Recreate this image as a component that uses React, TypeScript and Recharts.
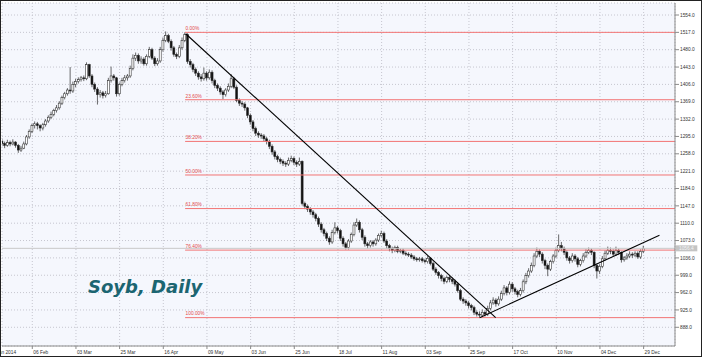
import React from 'react';
import { ComposedChart, Bar, XAxis, YAxis, CartesianGrid, ReferenceLine, ReferenceDot } from 'recharts';

// Daily closes (first visible bar ~15 Jan 2014 through 29 Dec 2014)
const firstOpen = 1285;
const closes = [
  1280,1276,1282,1279,1283,1276,1266,1270,1279,1294,
  1306,1318,1322,1318,1313,1320,1328,1336,1342,1350,
  1356,1366,1378,1386,1394,1392,1406,1412,1416,1420,
  1418,1448,1424,1406,1396,1384,1388,1382,1386,1414,
  1424,1420,1386,1406,1414,1420,1424,1440,1462,1468,
  1456,1460,1450,1466,1480,1462,1450,1456,1480,1500,
  1510,1498,1484,1470,1466,1484,1500,1512,1455,1448,
  1438,1430,1422,1418,1430,1420,1432,1414,1404,1398,
  1390,1384,1394,1402,1418,1400,1372,1366,1364,1356,
  1340,1326,1312,1302,1298,1296,1290,1284,1274,1262,
  1252,1246,1242,1238,1236,1244,1248,1240,1236,1242,
  1152,1146,1140,1134,1128,1120,1108,1096,1088,1078,
  1070,1090,1100,1094,1078,1066,1058,1072,1086,1106,
  1112,1096,1080,1066,1062,1070,1066,1074,1084,1088,
  1072,1062,1056,1052,1058,1050,1052,1046,1044,1042,
  1038,1034,1032,1034,1030,1028,1035,1024,1012,1005,
  998,992,986,994,990,986,980,966,948,944,
  940,934,930,920,916,914,920,916,928,940,
  946,938,948,960,972,962,980,970,964,958,
  966,985,998,1008,1020,1040,1050,1044,1030,1020,
  1012,1028,1040,1052,1062,1056,1048,1036,1030,1040,
  1034,1022,1030,1040,1048,1052,1048,1020,1008,1018,
  1034,1046,1052,1050,1044,1052,1048,1032,1036,1040,
  1044,1042,1046,1038,1050,1056.4,
];
const highs = [
  1290,1284,1288,1286,1289,1285,1279,1275,1284,1298,
  1310,1322,1327,1326,1321,1324,1332,1340,1348,1354,
  1362,1370,1382,1390,1398,1443,1412,1418,1421,1424,
  1425,1453,1450,1428,1410,1400,1394,1392,1392,1420,
  1444,1428,1422,1410,1420,1426,1428,1446,1470,1474,
  1472,1466,1464,1470,1486,1484,1466,1462,1486,1506,
  1519,1514,1502,1488,1474,1490,1506,1517,1515,1460,
  1452,1442,1434,1428,1442,1434,1438,1436,1418,1408,
  1402,1394,1398,1408,1428,1422,1404,1376,1370,1368,
  1358,1344,1330,1316,1306,1302,1300,1294,1288,1278,
  1266,1256,1250,1246,1242,1250,1254,1252,1244,1250,
  1244,1156,1150,1144,1138,1132,1124,1112,1100,1092,
  1082,1096,1112,1104,1098,1082,1070,1076,1090,1112,
  1120,1116,1100,1084,1070,1074,1074,1078,1088,1094,
  1092,1076,1066,1060,1062,1062,1056,1056,1050,1048,
  1046,1042,1038,1038,1038,1034,1040,1038,1028,1016,
  1008,1002,996,998,998,994,990,984,970,952,
  948,944,938,934,924,922,926,924,934,946,
  952,950,954,966,978,976,986,984,974,968,
  972,990,1004,1014,1026,1046,1058,1054,1048,1034,
  1024,1032,1044,1058,1086,1070,1060,1052,1040,1046,
  1044,1038,1034,1046,1054,1058,1056,1050,1024,1022,
  1040,1052,1060,1058,1054,1060,1056,1050,1040,1046,
  1050,1048,1050,1050,1054,1062,
];
const lows = [
  1274,1270,1273,1274,1276,1271,1260,1262,1268,1276,
  1290,1302,1312,1310,1306,1308,1316,1324,1332,1338,
  1346,1352,1362,1374,1382,1386,1388,1400,1408,1412,
  1413,1415,1420,1400,1390,1363,1378,1376,1378,1384,
  1410,1414,1380,1382,1402,1410,1414,1420,1436,1456,
  1450,1450,1446,1446,1462,1458,1445,1446,1452,1476,
  1496,1494,1478,1465,1460,1462,1480,1496,1450,1442,
  1432,1424,1416,1412,1414,1414,1416,1408,1398,1392,
  1384,1374,1380,1390,1398,1396,1368,1360,1358,1350,
  1334,1320,1306,1296,1292,1290,1284,1278,1268,1256,
  1246,1240,1236,1232,1230,1232,1240,1234,1230,1232,
  1148,1140,1134,1128,1122,1114,1102,1090,1082,1072,
  1064,1066,1086,1088,1072,1060,1054,1054,1068,1082,
  1102,1090,1074,1060,1056,1058,1060,1062,1070,1080,
  1068,1056,1050,1046,1048,1046,1046,1042,1040,1038,
  1034,1030,1028,1028,1026,1024,1024,1020,1008,1000,
  992,986,980,982,984,980,975,962,944,938,
  934,928,924,914,911,909,910,911,912,924,
  936,932,934,944,956,956,958,964,958,952,
  954,962,980,994,1004,1016,1036,1038,1024,1012,
  997,1008,1024,1036,1048,1050,1042,1030,1024,1026,
  1028,1016,1018,1026,1036,1044,1042,1014,992,1002,
  1014,1030,1042,1044,1040,1040,1042,1026,1028,1032,
  1036,1036,1038,1034,1034,1046,
];

const xTickIdx = [-5, 11, 27, 43, 59, 75, 91, 107, 123, 139, 155, 171, 187, 203, 219, 235];
const xTickLabels = ['14 Jan 2014', '06 Feb', '03 Mar', '25 Mar', '16 Apr', '09 May', '03 Jun', '25 Jun', '18 Jul', '11 Aug', '03 Sep', '25 Sep', '17 Oct', '10 Nov', '04 Dec', '29 Dec'];
const yTicks = [888, 925, 962, 999, 1036, 1073, 1110, 1147, 1184, 1221, 1258, 1295, 1332, 1369, 1406, 1443, 1480, 1517, 1554];

const fibPrices = [1517, 1373.3, 1284.4, 1212.8, 1141.2, 1052.6, 908.6];
const fibLabels = ['0.00%', '23.60%', '38.20%', '50.00%', '61.80%', '76.40%', '100.00%'];
const fibStartIdx = 67;

const lastPrice = 1056.4;
const downTrend = [{ x: 67.2, y: 1514 }, { x: 180.8, y: 908.5 }];
const upTrend = [{ x: 174.9, y: 908.5 }, { x: 240.8, y: 1084.2 }];

const X_DOMAIN: [number, number] = [-0.1, 246.5];
const Y_DOMAIN: [number, number] = [848.1, 1579.6];

const rows = closes.map((c, i) => ({
  i,
  o: i === 0 ? firstOpen : closes[i - 1],
  h: highs[i],
  l: lows[i],
  c,
}));

const FONT = '"Liberation Sans", Arial, sans-serif';

const Candle = (props: any) => {
  const { x, y, width, height, payload } = props;
  if (!payload || x == null || y == null) return null;
  const { o, h, l, c } = payload;
  const cx = x + width / 2;
  const top = Math.min(y, y + height);
  const hh = Math.abs(height);
  const k = h - l > 0 ? hh / (h - l) : 0;
  const yo = top + (h - o) * k;
  const yc = top + (h - c) * k;
  const bTop = Math.min(yo, yc);
  const bH = Math.max(Math.abs(yo - yc), 0.8);
  const bull = c >= o;
  return (
    <g>
      <line x1={cx} x2={cx} y1={top} y2={top + hh} stroke="#2a2a2a" strokeWidth={0.7} />
      <rect x={cx - 1} y={bTop} width={2} height={bH} fill={bull ? '#ffffff' : '#111111'} stroke="#2a2a2a" strokeWidth={0.55} />
    </g>
  );
};

const XTick = (props: any) => {
  const { x, y, payload } = props;
  const idx = xTickIdx.indexOf(payload.value);
  const label = idx >= 0 ? xTickLabels[idx] : '';
  return (
    <text x={x + 1} y={y + 4.6} fontSize={4.8} fill="#333" fontFamily={FONT} textAnchor="start">
      {label}
    </text>
  );
};

const YTick = (props: any) => {
  const { x, y, payload } = props;
  return (
    <text x={x} y={y + 1.7} fontSize={4.8} fill="#333" fontFamily={FONT} textAnchor="start">
      {Number(payload.value).toFixed(1)}
    </text>
  );
};

const PriceTag = (props: any) => {
  const vb = props.viewBox || {};
  const yy = vb.y;
  const xr = (vb.x || 0) + (vb.width || 0);
  return (
    <g>
      <rect x={xr + 0.7} y={yy - 3} width={21.6} height={6} fill="#c4c4c4" />
      <text x={xr + 4} y={yy + 1.7} fontSize={4.8} fill="#f4f4f4" fontFamily={FONT}>
        {lastPrice.toFixed(1)}
      </text>
    </g>
  );
};

export default function App() {
  return (
    <div style={{ position: 'absolute', left: 0, top: 0, width: 702, height: 357, background: '#fff' }}>
      <ComposedChart
        width={702}
        height={357}
        data={rows}
        margin={{ top: 3, right: 0, bottom: 0, left: 2 }}
      >
        <CartesianGrid fill="#F5F7FD" stroke="#c6c6cf" strokeDasharray="1 2" />
        <XAxis
          dataKey="i"
          type="number"
          domain={X_DOMAIN}
          allowDataOverflow
          ticks={xTickIdx}
          interval={0}
          tickSize={3}
          tickMargin={0}
          tick={<XTick />}
          axisLine={{ stroke: '#8a8a8a' }}
          tickLine={{ stroke: '#8a8a8a' }}
          height={11}
        />
        <YAxis
          orientation="right"
          type="number"
          domain={Y_DOMAIN}
          allowDataOverflow
          ticks={yTicks}
          interval={0}
          tickSize={4}
          tickMargin={1}
          tick={<YTick />}
          axisLine={{ stroke: '#8a8a8a' }}
          tickLine={{ stroke: '#8a8a8a' }}
          width={27}
        />
        <ReferenceLine y={lastPrice} stroke="#c8c8c8" strokeWidth={1} ifOverflow="visible" label={<PriceTag />} />
        {fibPrices.map((p, k) => (
          <ReferenceLine
            key={'fib' + k}
            segment={[{ x: fibStartIdx, y: p }, { x: X_DOMAIN[1], y: p }]}
            stroke="#f27474"
            strokeWidth={1}
            ifOverflow="visible"
          />
        ))}
        {fibPrices.map((p, k) => (
          <ReferenceDot
            key={'fibl' + k}
            x={fibStartIdx}
            y={p}
            r={0}
            ifOverflow="visible"
            shape={(sp: any) => (
              <text x={sp.cx + 0.5} y={sp.cy - 2.2} fontSize={4.8} fill="#e34b4b" fontFamily={FONT}>
                {fibLabels[k]}
              </text>
            )}
          />
        ))}
        <Bar
          dataKey={(d: any) => [d.l, d.h]}
          barSize={2}
          shape={<Candle />}
          isAnimationActive={false}
        />
        <ReferenceLine segment={downTrend} stroke="#000" strokeWidth={1.1} ifOverflow="visible" />
        <ReferenceLine segment={upTrend} stroke="#000" strokeWidth={1.1} ifOverflow="visible" />
      </ComposedChart>
      <div
        style={{
          position: 'absolute',
          left: 88,
          top: 278,
          fontFamily: '"DejaVu Sans", Verdana, sans-serif',
          fontSize: 18,
          fontWeight: 'bold',
          fontStyle: 'italic',
          lineHeight: '18px',
          color: '#1B6571',
          whiteSpace: 'nowrap',
        }}
      >
        Soyb, Daily
      </div>
      <div
        style={{
          position: 'absolute',
          left: 0,
          top: 0,
          width: 702,
          height: 357,
          boxSizing: 'border-box',
          border: '1px solid #222',
          pointerEvents: 'none',
        }}
      />
    </div>
  );
}
